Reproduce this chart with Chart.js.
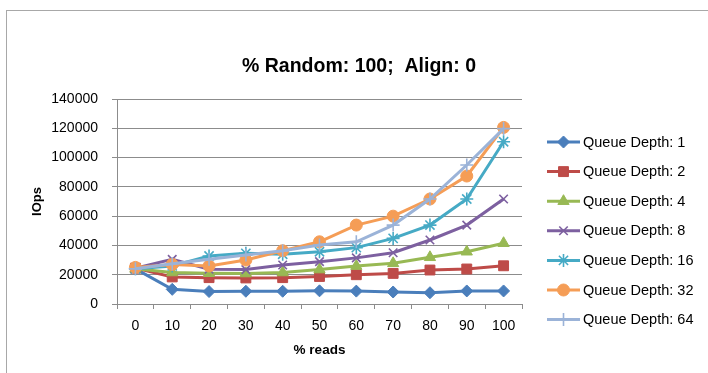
<!DOCTYPE html>
<html>
<head>
<meta charset="utf-8">
<script src="https://cdn.jsdelivr.net/npm/chart.js@4"></script>
<style>
  body { margin: 0; background: #fff; }
  #wrap { position: relative; width: 708px; height: 373px; overflow: hidden; }
  #frame { position: absolute; left: 6px; top: 10px; width: 740px; height: 400px; border: 1.5px solid #a8a8a8; pointer-events: none; }
</style>
</head>
<body>
<div id="wrap">
  <canvas id="ioChart" width="708" height="373"></canvas>
  <div id="frame"></div>
</div>
<script>
// % reads on the x axis
const reads = ['0', '10', '20', '30', '40', '50', '60', '70', '80', '90', '100'];

// IOps per queue depth
const qd1  = [24000, 10000, 8500, 8700, 8700, 9000, 8800, 8200, 7700, 8900, 8900];
const qd2  = [24500, 18500, 18000, 17800, 18000, 18800, 20000, 20900, 23200, 23900, 26100];
const qd4  = [24000, 21500, 21000, 20800, 21500, 23500, 25900, 27800, 31900, 35700, 41500];
const qd8  = [24500, 30500, 23700, 23500, 26600, 28900, 31500, 35000, 43700, 53900, 71700];
const qd16 = [24000, 26000, 32800, 34600, 34000, 35700, 38500, 44800, 53900, 71700, 110800];
const qd32 = [25000, 27000, 26000, 30000, 36400, 42500, 53900, 60000, 71700, 87400, 120600];
const qd64 = [24000, 27500, 30500, 33400, 36400, 40300, 42500, 53900, 71700, 94900, 119800];

const seriesNames = ['Queue Depth: 1', 'Queue Depth: 2', 'Queue Depth: 4', 'Queue Depth: 8',
                     'Queue Depth: 16', 'Queue Depth: 32', 'Queue Depth: 64'];
const yTicks = [0, 20000, 40000, 60000, 80000, 100000, 120000, 140000];

const FONT = "'Liberation Sans', Arial, sans-serif";
const GRID = '#8c8c8c';

const styles = [
    { color: '#4a7ebb', point: 'rectRot',  r: 6 },
    { color: '#be4b48', point: 'rect',     r: 7 },
    { color: '#98b954', point: 'triangle', r: 6.5 },
    { color: '#7d60a0', point: 'crossRot', r: 6 },
    { color: '#46aac5', point: 'star',     r: 6.5 },
    { color: '#f59d56', point: 'circle',   r: 6 },
    { color: '#9bb3d8', point: 'cross',    r: 6.5 }
];

const allData = [qd1, qd2, qd4, qd8, qd16, qd32, qd64];

const datasets = allData.map((d, i) => ({
    label: seriesNames[i],
    data: d,
    borderColor: styles[i].color,
    backgroundColor: styles[i].color,
    pointBackgroundColor: styles[i].color,
    pointBorderColor: styles[i].color,
    pointStyle: styles[i].point,
    pointRadius: styles[i].r,
    pointBorderWidth: (styles[i].point.startsWith('cross') || styles[i].point === 'star') ? 1.6 : 1,
    borderWidth: 3,
    tension: 0,
    fill: false,
    order: 6 - i // later series drawn on top, like Excel
}));

// legend drawn on the right: line sample with marker, then the label
const sideLegend = {
    id: 'sideLegend',
    afterDraw(chart) {
        const ctx = chart.ctx;
        const area = chart.chartArea;
        const x0 = area.right + 25;
        const y0 = area.top + 43;
        const step = 29.6;
        ctx.save();
        chart.data.datasets.forEach((ds, i) => {
            const y = y0 + i * step;
            ctx.strokeStyle = ds.borderColor;
            ctx.lineWidth = 3;
            ctx.beginPath();
            ctx.moveTo(x0, y);
            ctx.lineTo(x0 + 33, y);
            ctx.stroke();
            ctx.fillStyle = ds.pointBackgroundColor;
            ctx.strokeStyle = ds.pointBorderColor;
            ctx.lineWidth = ds.pointBorderWidth;
            Chart.helpers.drawPoint(ctx, { pointStyle: ds.pointStyle, radius: ds.pointRadius, rotation: 0, borderWidth: ds.pointBorderWidth }, x0 + 16.5, y);
            ctx.fillStyle = '#000';
            ctx.font = '14.5px ' + FONT;
            ctx.textAlign = 'left';
            ctx.textBaseline = 'middle';
            ctx.fillText(ds.label, x0 + 36, y + 0.5);
        });
        ctx.restore();
    }
};

const ctx = document.getElementById('ioChart').getContext('2d');
const ioChart = new Chart(ctx, {
    type: 'line',
    data: { labels: reads, datasets: datasets },
    options: {
        responsive: false,
        animation: false,
        layout: { padding: { left: 10, right: 0, top: 0, bottom: 0 } },
        plugins: {
            legend: { display: false },
            tooltip: { enabled: false },
            title: {
                display: true,
                text: '% Random: 100;  Align: 0',
                color: '#000',
                font: { family: FONT, size: 19.5, weight: 'bold' },
                padding: { top: 55, bottom: 20.6 }
            }
        },
        scales: {
            x: {
                offset: true,
                grid: { offset: true, drawOnChartArea: false, drawTicks: true, tickLength: 5, color: GRID },
                border: { color: GRID, width: 1 },
                ticks: { color: '#000', font: { family: FONT, size: 14 }, padding: 9, maxRotation: 0 },
                title: { display: true, text: '% reads', color: '#000', font: { family: FONT, size: 13.5, weight: 'bold' }, padding: { top: 0, bottom: 15 } },
                afterFit(scale) { scale.height = 69; }
            },
            y: {
                min: 0,
                max: 140000,
                afterBuildTicks(scale) { scale.ticks = yTicks.map(v => ({ value: v })); },
                grid: { color: GRID, tickLength: 5, drawTicks: true },
                border: { color: GRID, width: 1 },
                ticks: { color: '#000', font: { family: FONT, size: 14 }, padding: 14, callback: v => String(v) },
                title: { display: true, text: 'IOps', color: '#000', font: { family: FONT, size: 13, weight: 'bold' }, padding: { top: 20, bottom: 0 } },
                afterFit(scale) { scale.width = 107; }
            },
            // empty axis on the right that reserves the room for the legend
            side: {
                type: 'linear',
                position: 'right',
                display: true,
                grid: { display: false, drawTicks: false },
                border: { display: false },
                ticks: { display: false },
                afterFit(scale) { scale.width = 186; }
            }
        }
    },
    plugins: [sideLegend]
});
</script>
</body>
</html>
